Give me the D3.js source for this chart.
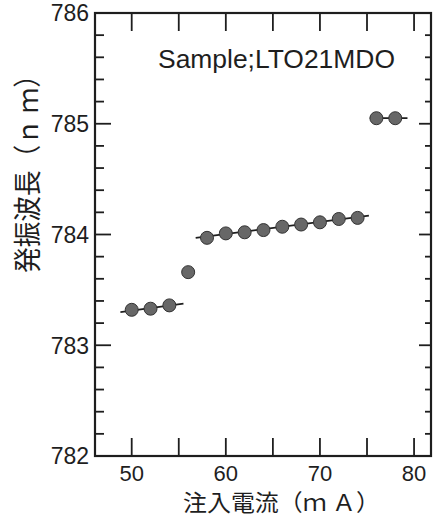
<!DOCTYPE html>
<html>
<head>
<meta charset="utf-8">
<script src="https://cdn.jsdelivr.net/npm/d3@7"></script>
<style>
  html, body { margin: 0; padding: 0; background: #fff; }
  svg { display: block; }
</style>
</head>
<body>
<div id="chart"></div>
<script>
// injection current (mA) and lasing wavelength (nm)
var currents    = [50, 52, 54, 56, 58, 60, 62, 64, 66, 68, 70, 72, 74, 76, 78];
var wavelengths = [783.32, 783.33, 783.36, 783.66, 783.97, 784.01, 784.02, 784.04,
                   784.07, 784.09, 784.11, 784.14, 784.15, 785.05, 785.05];
// fitted segments per mode: [x0, y0, x1, y1]
var fitLines = [
  [48.8, 783.30, 55.5, 783.375],
  [56.8, 783.97, 75.2, 784.17],
  [75.3, 785.05, 79.3, 785.05]
];
var xTicks = [50, 60, 70, 80];
var xMinor = [55, 65, 75];
var yTicks = [782, 783, 784, 785, 786];
var sampleLabel = "Sample;LTO21MDO";
var xTitle = "注入電流（ｍ Ａ）";
var yTitle = "発振波長（ｎ ｍ）";

var W = 438, H = 518;
// plot box (window.top is reserved, so use a prefix)
var box = { l: 95, r: 431, t: 13, b: 456 };

var svg = d3.select("#chart").append("svg")
    .attr("width", W).attr("height", H);

var x = d3.scaleLinear().domain([46.1, 81.8]).range([box.l, box.r]);
var y = d3.scaleLinear().domain([782, 786]).range([box.b, box.t]);

var ink = "#1e1e1e";
var numFont = "'Liberation Sans', Arial, sans-serif";
var cjkFont = "'Noto Sans CJK JP', sans-serif";

// frame
svg.append("rect")
    .attr("x", box.l).attr("y", box.t)
    .attr("width", box.r - box.l).attr("height", box.b - box.t)
    .attr("fill", "none").attr("stroke", ink).attr("stroke-width", 2.2);

// x ticks, inward on bottom and top
var allX = xTicks.concat(xMinor);
svg.append("g").selectAll("line").data(allX).enter().append("line")
    .attr("x1", function(d) { return x(d); }).attr("x2", function(d) { return x(d); })
    .attr("y1", box.b).attr("y2", box.b - 18)
    .attr("stroke", ink).attr("stroke-width", 1.8);
svg.append("g").selectAll("line").data(allX).enter().append("line")
    .attr("x1", function(d) { return x(d); }).attr("x2", function(d) { return x(d); })
    .attr("y1", box.t).attr("y2", box.t + 18)
    .attr("stroke", ink).attr("stroke-width", 1.8);

svg.append("g").selectAll("text").data(xTicks).enter().append("text")
    .attr("x", function(d) { return x(d); })
    .attr("y", 481)
    .attr("text-anchor", "middle")
    .attr("font-family", numFont).attr("font-size", 22)
    .attr("fill", ink)
    .text(function(d) { return d; });

// y ticks every 0.2, longer on whole numbers
var yAll = d3.range(0, 21).map(function(i) { return 782 + i * 0.2; });
function isMajor(d) { return Math.abs(d - Math.round(d)) < 1e-6; }
svg.append("g").selectAll("line").data(yAll).enter().append("line")
    .attr("x1", box.l).attr("x2", function(d) { return box.l + (isMajor(d) ? 16 : 9); })
    .attr("y1", function(d) { return y(d); }).attr("y2", function(d) { return y(d); })
    .attr("stroke", ink).attr("stroke-width", 1.8);
svg.append("g").selectAll("line").data(yAll).enter().append("line")
    .attr("x1", box.r).attr("x2", function(d) { return box.r - (isMajor(d) ? 12 : 6); })
    .attr("y1", function(d) { return y(d); }).attr("y2", function(d) { return y(d); })
    .attr("stroke", ink).attr("stroke-width", 1.8);

svg.append("g").selectAll("text").data(yTicks).enter().append("text")
    .attr("x", 89)
    .attr("y", function(d) { return y(d); })
    .attr("dy", "0.36em")
    .attr("text-anchor", "end")
    .attr("font-family", numFont).attr("font-size", 23)
    .attr("fill", ink)
    .text(function(d) { return d; });

// fitted lines
svg.append("g").selectAll("line").data(fitLines).enter().append("line")
    .attr("x1", function(d) { return x(d[0]); }).attr("y1", function(d) { return y(d[1]); })
    .attr("x2", function(d) { return x(d[2]); }).attr("y2", function(d) { return y(d[3]); })
    .attr("stroke", ink).attr("stroke-width", 1.8);

// points
svg.append("g").selectAll("circle").data(currents).enter().append("circle")
    .attr("cx", function(d) { return x(d); })
    .attr("cy", function(d, i) { return y(wavelengths[i]); })
    .attr("r", 6.5)
    .attr("fill", "#676767")
    .attr("stroke", "#333").attr("stroke-width", 1);

// sample annotation
svg.append("text")
    .attr("x", 158).attr("y", 68)
    .attr("font-family", numFont).attr("font-size", 25)
    .attr("textLength", 237).attr("lengthAdjust", "spacingAndGlyphs")
    .attr("fill", ink)
    .text(sampleLabel);

// axis titles
svg.append("text")
    .attr("x", 183).attr("y", 511)
    .attr("font-family", cjkFont).attr("font-size", 23)
    .attr("textLength", 197).attr("lengthAdjust", "spacingAndGlyphs")
    .attr("fill", ink)
    .text(xTitle);

svg.append("text")
    .attr("transform", "translate(38,273) rotate(-90)")
    .attr("font-family", cjkFont).attr("font-size", 28)
    .attr("textLength", 211).attr("lengthAdjust", "spacingAndGlyphs")
    .attr("fill", ink)
    .text(yTitle);
</script>
</body>
</html>
